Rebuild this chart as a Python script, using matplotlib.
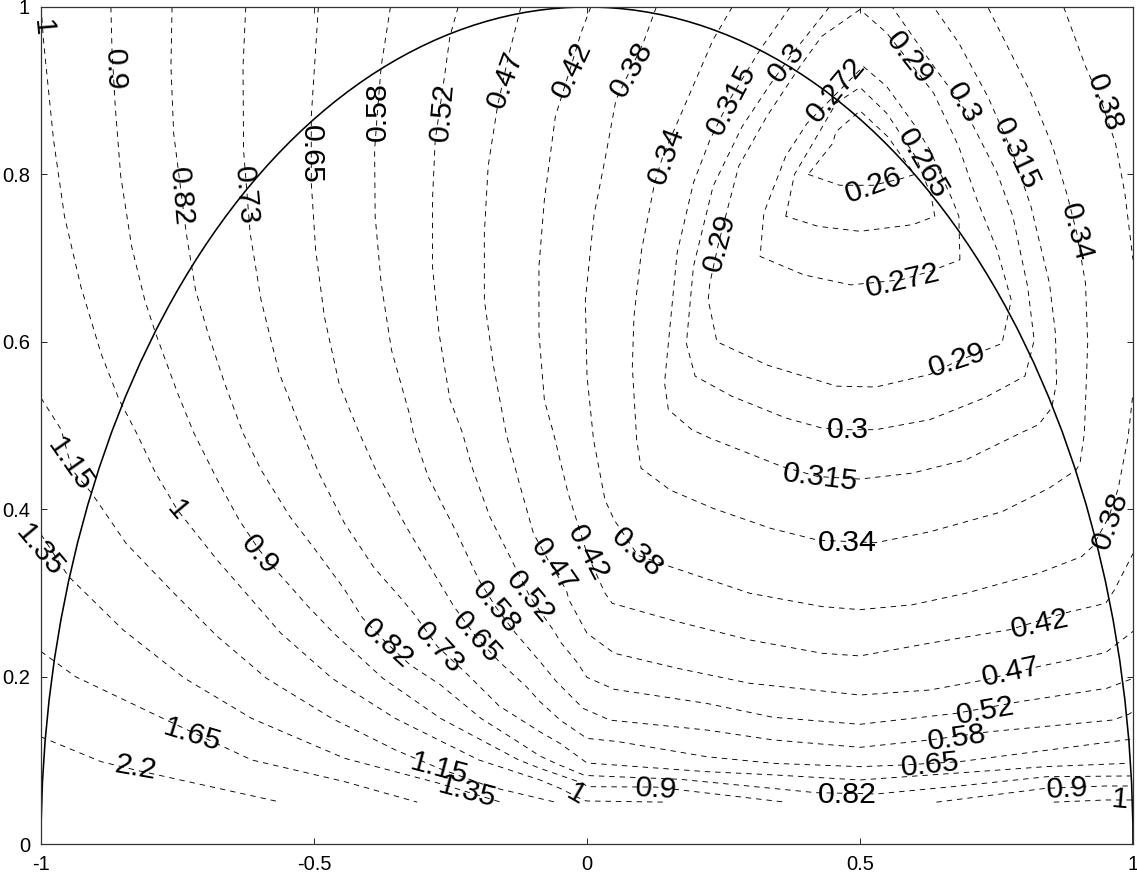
import matplotlib
matplotlib.use("Agg")
import matplotlib.pyplot as plt
from matplotlib.patches import Arc

plt.rcParams['font.family'] = ['Liberation Sans', 'DejaVu Sans']

c_260 = [(.405,.8),(.463,.787),(.524,.787),(.576,.795),(.6,.8),(.551,.845),(.5,.876),(.456,.851),(.45,.837),(.405,.8)]
c_265 = [(.364,.75),(.38,.8),(.417,.841),(.456,.885),(.5,.904),(.549,.873),(.602,.821),(.63,.775),(.637,.75),(.597,.74),(.5,.732),(.423,.738),(.364,.75)]
c_272 = [(.683,.698),(.681,.75),(.669,.77),(.628,.829),(.602,.857),(.549,.905),(.506,.929),(.403,.861),(.364,.822),(.324,.754),(.317,.702),(.397,.68),(.483,.668),(.575,.674),(.628,.684),(.683,.698)]
c_290 = [(.5,.997),(.43,.965),(.39,.929),(.33,.87),(.278,.81),(.241,.718),(.225,.67),(.222,.65),(.238,.6),(.331,.572),(.457,.547),(.529,.546),(.628,.561),(.675,.576),(.76,.598),(.777,.65),(.751,.71),(.714,.77),(.681,.833),(.635,.897),(.585,.939),(.549,.969),(.5,.997)]
c_300 = [(.444,1),(.377,.945),(.337,.909),(.284,.857),(.231,.786),(.195,.69),(.182,.598),(.198,.559),(.265,.535),(.364,.509),(.43,.497),(.476,.495),(.529,.495),(.628,.507),(.728,.533),(.802,.559),(.813,.586),(.819,.602),(.807,.666),(.78,.75),(.751,.802),(.708,.857),(.685,.885),(.635,.929),(.559,1)]
c_315 = [(.372,1),(.317,.949),(.261,.889),(.225,.841),(.195,.79),(.165,.706),(.142,.551),(.149,.519),(.192,.495),(.225,.485),(.357,.451),(.423,.439),(.5,.436),(.595,.443),(.694,.459),(.794,.491),(.827,.501),(.851,.521),(.86,.551),(.858,.61),(.847,.67),(.813,.762),(.78,.825),(.734,.893),(.681,.957),(.635,1)]
c_340 = [(.266,1),(.231,.961),(.139,.822),(.124,.79),(.1,.71),(.086,.63),(.083,.57),(.091,.483),(.099,.449),(.152,.423),(.231,.401),(.337,.377),(.423,.363),(.529,.36),(.628,.373),(.76,.397),(.846,.425),(.896,.447),(.903,.455),(.911,.491),(.917,.598),(.913,.67),(.897,.73),(.88,.774),(.853,.833),(.813,.897),(.767,.957),(.734,1)]
c_380_a = [(.127,1),(.103,.957),(.053,.889),(.033,.818),(.013,.752),(-.003,.65),(0,.559),(.012,.483),(.033,.411),(.05,.387),(.093,.345),(.152,.3315),(.298,.2996),(.43,.2837),(.5,.28),(.595,.2857),(.694,.2996),(.827,.3235),(.906,.3434),(.926,.3554),(.956,.391),(.973,.425),(.991,.486),(1,.539)]
c_380_b = [(.873,1),(.913,.929),(.943,.885),(.968,.837),(.985,.778),(1,.698)]
c_420 = [(.007,1),(-.011,.969),(-.027,.934),(-.058,.869),(-.078,.77),(-.088,.69),(-.088,.61),(-.078,.53),(-.061,.49),(-.035,.42),(0,.347),(.033,.2996),(.046,.2876),(.165,.2657),(.298,.2438),(.43,.2279),(.5,.2247),(.628,.24),(.774,.256),(.873,.2757),(.95,.2876),(.966,.3036),(1,.347)]
c_470 = [(-.121,1),(-.144,.941),(-.164,.881),(-.181,.81),(-.188,.73),(-.188,.65),(-.171,.57),(-.148,.49),(-.124,.431),(-.098,.371),(-.071,.339),(-.038,.3036),(-.033,.2916),(0,.2518),(.05,.2279),(.165,.21),(.298,.192),(.5,.178),(.628,.184),(.728,.196),(.827,.212),(.95,.2287),(1,.254)]
c_520 = [(-.236,1),(-.251,.965),(-.261,.917),(-.278,.841),(-.283,.77),(-.283,.69),(-.271,.61),(-.251,.531),(-.228,.491),(-.211,.451),(-.178,.391),(-.144,.347),(-.105,.296),(-.058,.252),(-.049,.2416),(-.019,.2178),(0,.1991),(.05,.1848),(.219,.168),(.341,.1514),(.5,.143),(.677,.1562),(.793,.1701),(.952,.186),(1,.1979)]
c_580 = [(-.36,1),(-.377,.929),(-.384,.873),(-.389,.829),(-.388,.75),(-.377,.67),(-.358,.59),(-.324,.511),(-.318,.491),(-.291,.439),(-.238,.371),(-.198,.3155),(-.168,.284),(-.131,.252),(-.086,.2178),(-.056,.194),(-.007,.162),(.042,.148),(.219,.1362),(.341,.1243),(.5,.1155),(.628,.1243),(.738,.1342),(.964,.1482),(.992,.155),(1,.158)]
c_650 = [(-.492,1),(-.505,.869),(-.505,.79),(-.497,.71),(-.481,.63),(-.454,.55),(-.417,.491),(-.384,.443),(-.331,.379),(-.291,.335),(-.244,.284),(-.204,.248),(-.161,.218),(-.111,.188),(-.086,.17),(-.049,.148),(0,.1262),(.058,.1222),(.219,.1043),(.341,.0964),(.5,.0924),(.579,.0944),(.683,.0984),(.995,.1251)]
c_730 = [(-.625,1),(-.63,.929),(-.629,.829),(-.617,.73),(-.597,.65),(-.564,.563),(-.521,.491),(-.491,.443),(-.444,.383),(-.391,.331),(-.344,.296),(-.318,.276),(-.274,.236),(-.218,.202),(-.161,.165),(-.086,.134),(-.049,.12),(0,.0968),(.219,.0864),(.341,.0826),(.5,.0765),(.683,.085),(.842,.0925),(.995,.0965)]
c_820 = [(-.76,1),(-.762,.929),(-.757,.849),(-.734,.73),(-.717,.662),(-.694,.61),(-.664,.551),(-.63,.491),(-.597,.447),(-.544,.391),(-.497,.351),(-.444,.304),(-.411,.27),(-.367,.24),(-.324,.214),(-.268,.19),(-.194,.15),(-.131,.124),(-.086,.105),(-.049,.094),(-.007,.0827),(0,.0818),(.17,.0773),(.42,.0613),(.53,.0598),(.671,.0686),(.842,.0804),(.995,.0813)]
c_900_a = [(-.872,1),(-.87,.949),(-.864,.881),(-.854,.798),(-.834,.714),(-.81,.65),(-.79,.61),(-.75,.539),(-.72,.491),(-.677,.435),(-.637,.387),(-.6,.351),(-.564,.323),(-.511,.284),(-.464,.252),(-.374,.198),(-.268,.15),(-.125,.1004),(-.086,.0904),(-.007,.0725),(0,.0685),(.126,.068),(.363,.05)]
c_900_b = [(.64,.05),(.84,.0665),(.95,.0693),(1,.0693)]
c_100_a = [(-1,1),(-.995,.957),(-.977,.841),(-.957,.75),(-.927,.666),(-.89,.586),(-.857,.531),(-.825,.491),(-.79,.443),(-.75,.399),(-.677,.339),(-.561,.252),(-.467,.198),(-.351,.15),(-.198,.1004),(-.086,.0765),(-.049,.0664),(-.007,.0525),(0,.0514),(.146,.05)]
c_100_b = [(.855,.05),(.95,.0526),(1,.0526)]
c_115 = [(-1,.533),(-.963,.495),(-.943,.447),(-.907,.419),(-.844,.359),(-.757,.3),(-.677,.248),(-.587,.198),(-.467,.15),(-.351,.1124),(-.271,.0904),(-.178,.0685),(-.058,.05)]
c_135 = [(-1,.37),(-.95,.32),(-.85,.256),(-.737,.198),(-.614,.15),(-.444,.1024),(-.271,.0725),(-.158,.05)]
c_165 = [(-1,.23),(-.937,.2),(-.77,.148),(-.614,.1004),(-.444,.0745),(-.311,.05)]
c_220 = [(-1,.128),(-.89,.0984),(-.827,.0884),(-.561,.05)]

contours = [c_260, c_265, c_272, c_290, c_300, c_315, c_340, c_380_a, c_380_b, c_420, c_470, c_520,
            c_580, c_650, c_730, c_820, c_900_a, c_900_b, c_100_a, c_100_b, c_115, c_135, c_165, c_220]

label_text = ['1','0.9','0.82','0.73','0.65','0.58','0.52','0.47','0.42','0.38','0.34','0.315','0.3','0.272',
              '0.29','0.3','0.315','0.34','0.38','0.265','0.26','0.29','0.272','0.29','0.3','0.315','0.34','0.38',
              '0.38','0.42','0.47','0.52','0.58','0.65','0.73','0.82','0.9','1','1.15','1.35','1.65','2.2','1.15',
              '1.35','1','0.9','0.82','0.65','0.58','0.52','0.47','0.42','0.9','1']
label_x = [-.998,-.866,-.745,-.626,-.505,-.383,-.264,-.15,-.027,.082,.145,.264,.366,.456,
           .59,.689,.786,.896,.947,.615,.526,.244,.579,.678,.478,.427,.476,.958,
           .092,.002,-.062,-.104,-.167,-.203,-.271,-.366,-.599,-.751,-.947,-1.002,-.723,-.826,-.27,
           -.22,-.02,.126,.476,.628,.678,.729,.777,.83,.879,.976]
label_y = [.975,.925,.774,.775,.824,.875,.875,.913,.925,.925,.822,.889,.934,.901,
           .939,.885,.825,.731,.885,.813,.787,.718,.673,.578,.495,.438,.36,.387,
           .348,.348,.333,.295,.283,.247,.234,.239,.345,.399,.453,.351,.13,.091,.09,
           .062,.06,.066,.059,.094,.127,.159,.205,.263,.066,.053]
label_rot = [-85,-88,-85,-85,-90,90,85,70,65,60,70,62,52,50,
             -52,-60,-65,-75,-70,-60,20,75,13,18,0,-7,0,70,
             -42,-62,-55,-50,-50,-48,-47,-42,-50,-50,-55,-50,-17,-10,-15,
             -15,-30,-3,0,6,8,10,12,12,3,-5]

xticks = [-1, -0.5, 0, 0.5, 1]
yticks = [0, 0.2, 0.4, 0.6, 0.8, 1]
xtick_labels = ['-1', '-0.5', '0', '0.5', '1']
ytick_labels = ['0', '0.2', '0.4', '0.6', '0.8', '1']

fig = plt.figure(figsize=(11.37, 8.74), dpi=100)
ax = fig.add_axes([41/1137, 1-844/874, (1133-41)/1137, (844-7)/874])
ax.set_xlim(-1, 1)
ax.set_ylim(0, 1)

for c in contours:
    ax.plot([p[0] for p in c], [p[1] for p in c], color='black', lw=0.65,
            linestyle=(0, (6.0, 5.5)), solid_joinstyle='round', clip_on=True)

ax.add_patch(Arc((0, 0), 2, 2, theta1=0, theta2=180, color='black', lw=1.15))

for t, x, y, r in zip(label_text, label_x, label_y, label_rot):
    ax.text(x, y, t, fontsize=21.8, rotation=r, rotation_mode='anchor',
            ha='center', va='center', color='black', clip_on=False)

ax.set_xticks(xticks, xtick_labels)
ax.set_yticks(yticks, ytick_labels)
ax.tick_params(direction='in', top=True, right=True, length=4.5, width=0.6,
               labelsize=14.5, pad=8)
for s in ax.spines.values():
    s.set_linewidth(0.9)
    s.set_color('#333333')

fig.savefig('out.png', dpi=100)
